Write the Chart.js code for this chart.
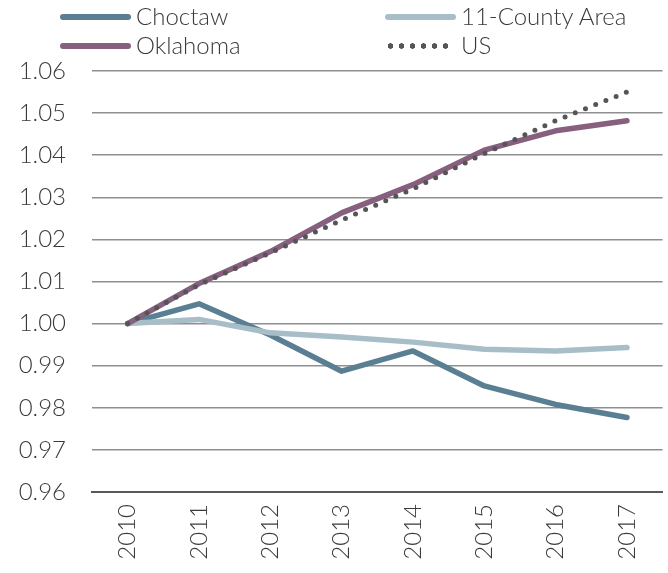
<!DOCTYPE html>
<html>
<head>
<meta charset="utf-8">
<script src="https://cdn.jsdelivr.net/npm/chart.js@4/dist/chart.umd.min.js"></script>
<style>
  html, body { margin: 0; padding: 0; background: #ffffff; }
  #wrap { position: relative; width: 668px; height: 573px; overflow: hidden; }
  canvas { position: absolute; left: 0; top: 0; }
  .lg { position: absolute; font-family: Lato, sans-serif; font-weight: 300; font-size: 24px; color: #3a3a3a; line-height: 28px; white-space: nowrap; }
  .sw { position: absolute; height: 6px; border-radius: 3px; }
  .dots { position: absolute; height: 6px;
    background-image: radial-gradient(circle, #555555 2.5px, transparent 3px);
    background-size: 11px 6px; background-repeat: repeat-x; }
</style>
</head>
<body>
<div id="wrap">
  <canvas id="c" width="668" height="573"></canvas>
  <div id="legend"></div>
</div>
<script>
// ---- data ----
const years = ['2010', '2011', '2012', '2013', '2014', '2015', '2016', '2017'];
const choctaw  = [1.0000, 1.0047, 0.9973, 0.9887, 0.9935, 0.9852, 0.9808, 0.9777];
const county11 = [1.0000, 1.0010, 0.9978, 0.9968, 0.9956, 0.9939, 0.9935, 0.9943];
const oklahoma = [1.0000, 1.0095, 1.0171, 1.0263, 1.0330, 1.0412, 1.0458, 1.0482];
const us       = [1.0000, 1.0092, 1.0168, 1.0246, 1.0320, 1.0404, 1.0482, 1.0550];
const seriesNames = ['Choctaw', '11-County Area', 'Oklahoma', 'US'];
const yTicks = [0.96, 0.97, 0.98, 0.99, 1.00, 1.01, 1.02, 1.03, 1.04, 1.05, 1.06];

const colors = ['#5a7f92', '#a7bec9', '#87607f', '#555555'];

// ---- HTML legend ----
const legendItems = [
  { name: seriesNames[0], color: colors[0], x: 60, y: 17, dotted: false },
  { name: seriesNames[1], color: colors[1], x: 385, y: 17, dotted: false },
  { name: seriesNames[2], color: colors[2], x: 60, y: 46, dotted: false },
  { name: seriesNames[3], color: colors[3], x: 385, y: 46, dotted: true }
];
const legend = document.getElementById('legend');
legendItems.forEach(it => {
  const sw = document.createElement('div');
  if (it.dotted) {
    sw.className = 'dots';
    sw.style.left = it.x + 'px';
    sw.style.top = (it.y - 3) + 'px';
    sw.style.width = '66px';
  } else {
    sw.className = 'sw';
    sw.style.left = it.x + 'px';
    sw.style.top = (it.y - 3) + 'px';
    sw.style.width = '71px';
    sw.style.background = it.color;
  }
  legend.appendChild(sw);
  const t = document.createElement('div');
  t.className = 'lg';
  t.textContent = it.name;
  t.style.left = (it.x + 76) + 'px';
  t.style.top = (it.y - 15) + 'px';
  legend.appendChild(t);
});

// ---- chart ----
const tickFont = { family: 'Lato', size: 24, weight: 300 };
const ctx = document.getElementById('c').getContext('2d');
new Chart(ctx, {
  type: 'line',
  data: {
    labels: years,
    datasets: [
      { label: seriesNames[0], data: choctaw, borderColor: colors[0], borderWidth: 5.5, pointRadius: 0, tension: 0, order: 4, borderJoinStyle: 'round', borderCapStyle: 'round' },
      { label: seriesNames[1], data: county11, borderColor: colors[1], borderWidth: 5.5, pointRadius: 0, tension: 0, order: 3, borderJoinStyle: 'round', borderCapStyle: 'round' },
      { label: seriesNames[2], data: oklahoma, borderColor: colors[2], borderWidth: 5.5, pointRadius: 0, tension: 0, order: 2, borderJoinStyle: 'round', borderCapStyle: 'round' },
      { label: seriesNames[3], data: us, borderColor: colors[3], borderWidth: 5, pointRadius: 0, tension: 0, order: 1, borderDash: [0, 11], borderCapStyle: 'round' }
    ]
  },
  options: {
    responsive: false,
    animation: false,
    devicePixelRatio: 1,
    layout: { padding: { top: 71, right: 4, left: 0, bottom: 0 } },
    plugins: { legend: { display: false }, tooltip: { enabled: false } },
    scales: {
      x: {
        offset: true,
        grid: { display: false, drawTicks: false },
        border: { display: true, color: '#595959', width: 2 },
        ticks: {
          font: tickFont,
          color: '#3a3a3a',
          maxRotation: 90, minRotation: 90,
          padding: 12
        },
        afterFit: s => { s.height = 81; }
      },
      y: {
        min: 0.96, max: 1.06,
        afterBuildTicks: s => { s.ticks = yTicks.map(v => ({ value: v })); },
        grid: {
          drawTicks: false,
          color: c => (Math.abs(c.tick.value - 0.96) < 1e-9 ? '#595959' : '#8f8f8f'),
          lineWidth: c => (Math.abs(c.tick.value - 0.96) < 1e-9 ? 2 : 1.5)
        },
        border: { display: false },
        ticks: {
          font: tickFont,
          color: '#3a3a3a',
          padding: 26,
          callback: v => Number(v).toFixed(2)
        },
        afterFit: s => { s.width = 92; }
      }
    }
  }
});
</script>
</body>
</html>
